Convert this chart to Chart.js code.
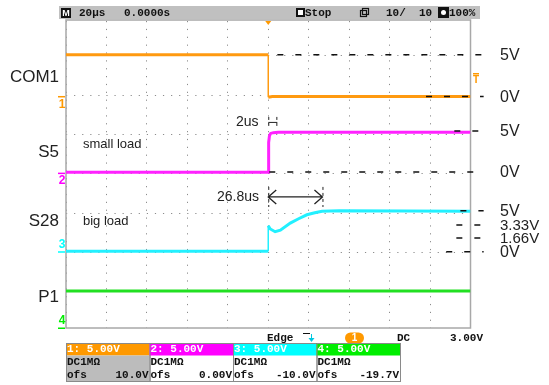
<!DOCTYPE html>
<html>
<head>
<meta charset="utf-8">
<script src="https://cdn.jsdelivr.net/npm/chart.js@4/dist/chart.umd.min.js"></script>
<style>
  body { margin: 0; background: #fff; }
  #wrap { width: 549px; height: 385px; }
</style>
</head>
<body>
<div id="wrap"><canvas id="scope" width="549" height="385"></canvas></div>
<script>
// Zeit in µs (20µs/div, Trigger in der Mitte), Pegel in Divisions (5V/div, Mitte = 0)
const com1T = [-100, 0, 0, 2, 100];
const com1V = [3.03, 3.03, 1.95, 1.97, 1.97];

const s5T = [-100, 0, 0.2, 0.6, 1.2, 2.5, 5, 100];
const s5V = [0.04, 0.04, 0.80, 0.97, 1.03, 1.05, 1.06, 1.06];

const s28T = [-100, 0, 0, 1, 3.4, 6, 10.9, 15, 19.1, 23, 26.6, 35, 100];
const s28V = [-1.97, -1.97, -1.32, -1.40, -1.47, -1.43, -1.25, -1.14, -1.04, -0.99, -0.95, -0.94, -0.95];

const p1T = [-100, 100];
const p1V = [-2.98, -2.98];

// Referenzlinien rechts (gestrichelt) mit Beschriftung
const refLabels = ['5V', '0V', '5V', '0V', '5V', '3.33V', '1.66V', '0V'];
const refY = [3.03, 1.97, 1.09, 0.05, -0.94, -1.30, -1.63, -1.98];
const refStart = [4.5, 78, 92, 0.5, 95, 93, 93, 88];
const refEnd = 106.5;

// Kanalnamen links
const chLabels = ['COM1', 'S5', 'S28', 'P1'];
const chLabelY = [2.47, 0.55, -1.20, -3.15];
const chGround = [1.97, 0.02, -1.98, -3.92];

// Kanal-Infofelder unten
const chHead = ['1: 5.00V', '2: 5.00V', '3: 5.00V', '4: 5.00V'];
const chOfs = ['10.0V', '0.00V', '-10.0V', '-19.7V'];
const chColors = ['#ff9900', '#ff00ff', '#00ffff', '#00ee00'];

// Messmarken
const riseTime = 4;      // Klammer "2us"
const settleTime = 26.8; // Pfeil "26.8us"

const toXY = (t, v) => t.map((x, i) => ({ x: x, y: v[i] }));

const datasets = [];
refY.forEach((y, i) => {
    datasets.push({
        data: [{ x: refStart[i], y: y }, { x: refEnd, y: y }],
        borderColor: '#111',
        borderWidth: 1.5,
        borderDash: [6, 12],
        pointRadius: 0,
        clip: false,
        order: 0
    });
});
const waves = [[com1T, com1V], [s5T, s5V], [s28T, s28V], [p1T, p1V]];
const waveColors = ['#ff9a10', '#ff22ff', '#22f0ff', '#22e022'];
waves.forEach((w, i) => {
    datasets.push({
        data: toXY(w[0], w[1]),
        borderColor: waveColors[i],
        borderWidth: 3,
        pointRadius: 0,
        tension: 0,
        order: 1,
        segment: {
            borderWidth: c => c.p0.parsed.x === c.p1.parsed.x ? 1.5 : 3
        }
    });
});

function txt(ctx, s, x, y, font, color, align) {
    ctx.font = font;
    ctx.fillStyle = color;
    ctx.textAlign = align || 'left';
    ctx.textBaseline = 'middle';
    ctx.fillText(s, x, y);
}

const mono = 'bold 11px "Liberation Mono", monospace';
const sans = '"Liberation Sans", Arial, sans-serif';

const scopeDecor = {
    id: 'scopeDecor',
    beforeDraw(chart) {
        const ctx = chart.ctx;
        ctx.save();
        ctx.fillStyle = '#fff';
        ctx.fillRect(0, 0, chart.width, chart.height);
        ctx.restore();
    },
    beforeDatasetsDraw(chart) {
        const ctx = chart.ctx;
        const a = chart.chartArea;
        ctx.save();
        ctx.strokeStyle = '#a8a8a8';
        ctx.lineWidth = 1.5;
        ctx.strokeRect(a.left, a.top - 1, a.right - a.left, a.bottom - a.top + 1);
        ctx.restore();
    },
    afterDraw(chart) {
        const ctx = chart.ctx;
        const xs = chart.scales.x, ys = chart.scales.y;
        const a = chart.chartArea;
        ctx.save();

        // Kopfzeile
        ctx.fillStyle = '#c0c0c0';
        ctx.fillRect(59, 6, 421, 13);
        ctx.fillStyle = '#111';
        ctx.fillRect(61, 8, 10, 10);
        txt(ctx, 'M', 66, 13.5, 'bold 9px "Liberation Sans"', '#fff', 'center');
        txt(ctx, '20µs', 79, 13, mono, '#111');
        txt(ctx, '0.0000s', 124, 13, mono, '#111');
        ctx.fillStyle = '#111';
        ctx.fillRect(296, 8, 9, 9);
        ctx.fillStyle = '#fff';
        ctx.fillRect(298, 10, 5, 5);
        txt(ctx, 'Stop', 305, 13, mono, '#111');
        ctx.strokeStyle = '#111';
        ctx.lineWidth = 1.2;
        ctx.strokeRect(360.5, 10.5, 6, 6);
        ctx.strokeRect(362.5, 8.5, 6, 6);
        txt(ctx, '10/', 386, 13, mono, '#111');
        txt(ctx, '10', 419, 13, mono, '#111');
        ctx.fillStyle = '#111';
        ctx.fillRect(438, 7, 11, 11);
        ctx.fillStyle = '#fff';
        ctx.beginPath();
        ctx.arc(443.5, 12.5, 2.5, 0, Math.PI * 2);
        ctx.fill();
        txt(ctx, '100%', 449, 13, mono, '#111');

        // Triggerposition oben
        const tx = xs.getPixelForValue(0);
        ctx.fillStyle = '#ff9900';
        ctx.beginPath();
        ctx.moveTo(tx - 3, a.top);
        ctx.lineTo(tx + 3, a.top);
        ctx.lineTo(tx, a.top + 4);
        ctx.closePath();
        ctx.fill();

        // Triggerpegel rechts
        ctx.fillRect(473, 73, 6, 1.5);
        txt(ctx, 'T', 476, 80, 'bold 10px "Liberation Sans"', '#ff9900', 'center');

        // Beschriftung der Referenzlinien
        refLabels.forEach((s, i) => {
            const f = s.length > 2 ? '15px ' + sans : '16px ' + sans;
            txt(ctx, s, 500, ys.getPixelForValue(refY[i]) + 1, f, '#222');
        });

        // Kanalnamen und Massemarken links
        chLabels.forEach((s, i) => {
            txt(ctx, s, 59, ys.getPixelForValue(chLabelY[i]), '17px ' + sans, '#222', 'right');
            const gy = ys.getPixelForValue(chGround[i]);
            ctx.fillStyle = chColors[i];
            ctx.fillRect(58, gy - 0.5, 7, 1.5);
            const dy = i < 2 ? 8 : -7;
            txt(ctx, String(i + 1), 62, gy + dy, 'bold 12px "Liberation Sans"', chColors[i], 'center');
        });

        // Texte im Plot
        txt(ctx, 'small load', 83, ys.getPixelForValue(0.76), '13px ' + sans, '#222');
        txt(ctx, 'big load', 83, ys.getPixelForValue(-1.20), '13px ' + sans, '#222');

        // Klammer 2us
        const b0 = xs.getPixelForValue(0), b1 = xs.getPixelForValue(riseTime);
        const bTop = ys.getPixelForValue(1.45), bBot = ys.getPixelForValue(1.15), bMid = ys.getPixelForValue(1.31);
        ctx.strokeStyle = '#222';
        ctx.lineWidth = 1;
        ctx.setLineDash([3, 3]);
        [b0, b1].forEach(x => {
            ctx.beginPath();
            ctx.moveTo(x + 0.5, bTop);
            ctx.lineTo(x + 0.5, bBot);
            ctx.stroke();
        });
        ctx.setLineDash([]);
        ctx.beginPath();
        ctx.moveTo(b0, bMid);
        ctx.lineTo(b1 + 1, bMid);
        ctx.stroke();
        txt(ctx, '2us', 236, bMid, '14px ' + sans, '#222');

        // Pfeil 26.8us
        const p0 = xs.getPixelForValue(0), p1 = xs.getPixelForValue(settleTime);
        const py = ys.getPixelForValue(-0.585);
        ctx.setLineDash([3, 3]);
        [p0, p1].forEach(x => {
            ctx.beginPath();
            ctx.moveTo(x + 0.5, py - 10);
            ctx.lineTo(x + 0.5, py + 10);
            ctx.stroke();
        });
        ctx.setLineDash([]);
        ctx.lineWidth = 1.3;
        ctx.beginPath();
        ctx.moveTo(p0, py);
        ctx.lineTo(p1, py);
        ctx.moveTo(p0 + 8, py - 7);
        ctx.lineTo(p0, py);
        ctx.lineTo(p0 + 8, py + 7);
        ctx.moveTo(p1 - 8, py - 7);
        ctx.lineTo(p1, py);
        ctx.lineTo(p1 - 8, py + 7);
        ctx.stroke();
        txt(ctx, '26.8us', 217, py, '14px ' + sans, '#222');

        // Triggerzeile unten
        txt(ctx, 'Edge', 267, 338, mono, '#111');
        ctx.strokeStyle = '#111';
        ctx.lineWidth = 1;
        ctx.beginPath();
        ctx.moveTo(303, 333.5);
        ctx.lineTo(310, 333.5);
        ctx.moveTo(312, 343.5);
        ctx.lineTo(322, 343.5);
        ctx.stroke();
        ctx.strokeStyle = '#00c8e0';
        ctx.fillStyle = '#00c8e0';
        ctx.beginPath();
        ctx.moveTo(311.5, 334);
        ctx.lineTo(311.5, 339);
        ctx.stroke();
        ctx.beginPath();
        ctx.moveTo(308.5, 338);
        ctx.lineTo(314.5, 338);
        ctx.lineTo(311.5, 342);
        ctx.closePath();
        ctx.fill();
        ctx.fillStyle = '#ff9900';
        ctx.beginPath();
        ctx.roundRect(345, 332.5, 19, 11, 5.5);
        ctx.fill();
        txt(ctx, '1', 354.5, 338.5, 'bold 10px "Liberation Sans"', '#fff', 'center');
        txt(ctx, 'DC', 397, 338, mono, '#111');
        txt(ctx, '3.00V', 450, 338, mono, '#111');

        // Kanal-Infofelder
        const bw = 83.5;
        chHead.forEach((s, i) => {
            const x0 = 66 + i * bw;
            ctx.fillStyle = chColors[i];
            ctx.fillRect(x0, 343, bw, 12.5);
            if (i === 0) {
                ctx.fillStyle = '#bcbcbc';
                ctx.fillRect(x0, 355.5, bw, 26);
            }
            ctx.strokeStyle = '#8a8a8a';
            ctx.lineWidth = 1;
            ctx.strokeRect(x0 + 0.5, 343.5, bw, 38);
            txt(ctx, s, x0 + 1, 349.5, mono, '#fff');
            txt(ctx, 'DC1MΩ', x0 + 1, 362.5, mono, '#111');
            txt(ctx, 'ofs', x0 + 1, 375, mono, '#111');
            txt(ctx, chOfs[i], x0 + bw - 1, 375, mono, '#111', 'right');
        });

        ctx.restore();
    }
};

new Chart(document.getElementById('scope').getContext('2d'), {
    type: 'line',
    data: { datasets: datasets },
    options: {
        responsive: false,
        animation: false,
        events: [],
        layout: { padding: { left: 66, right: 78.5, top: 21, bottom: 57 } },
        plugins: { legend: { display: false }, tooltip: { enabled: false } },
        scales: {
            x: {
                type: 'linear',
                min: -100,
                max: 100,
                ticks: { display: false, stepSize: 20 },
                grid: { color: '#8c8c8c', lineWidth: 1, drawTicks: false },
                border: { display: false, dash: [1.2, 6.66] }
            },
            y: {
                type: 'linear',
                min: -3.92,
                max: 3.89,
                ticks: { display: false, stepSize: 1, includeBounds: false },
                grid: { color: '#8c8c8c', lineWidth: 1, drawTicks: false },
                border: { display: false, dash: [1.2, 6.88] }
            }
        }
    },
    plugins: [scopeDecor]
});
</script>
</body>
</html>
